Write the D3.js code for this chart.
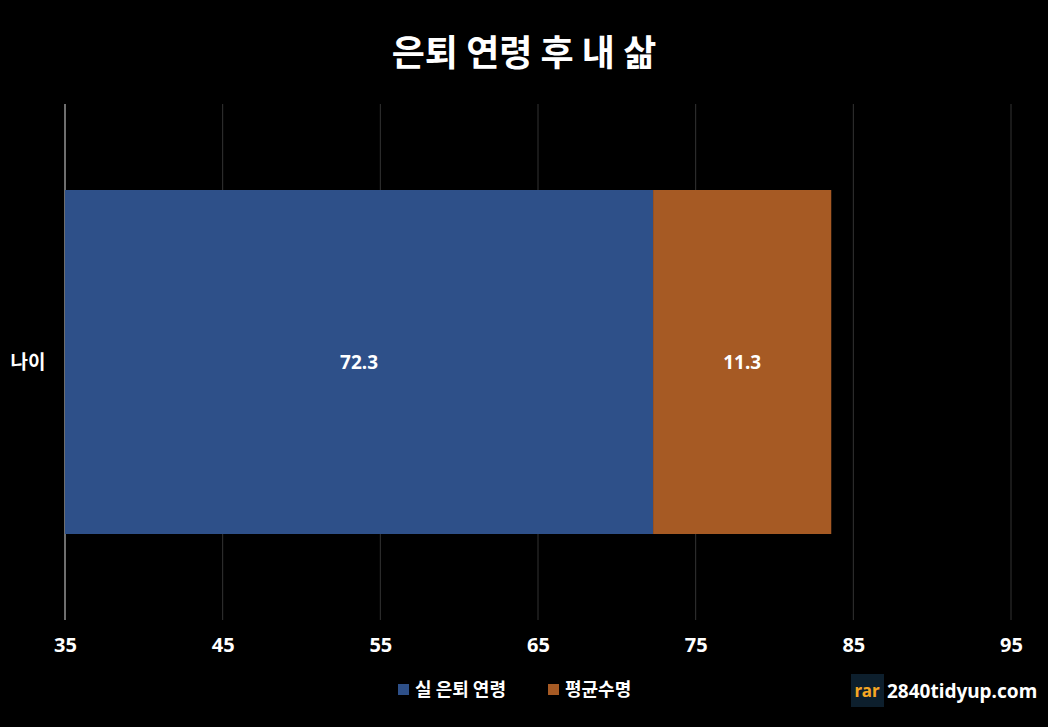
<!DOCTYPE html><html><head><meta charset="utf-8"><script src="https://cdn.jsdelivr.net/npm/d3@7"></script>
<style>body{margin:0;background:#000}svg{display:block}text{font-family:"Noto Sans CJK KR","Noto Sans",sans-serif}</style></head><body>
<script>
const categories=["나이"];
const retireAge=[72.3];
const lifeAfter=[11.3];
const seriesNames=["실 은퇴 연령","평균수명"];
const colors=["#2e5089","#a65a24"];
const tickValues=[35,45,55,65,75,85,95];
const W=1048,H=727;
const svg=d3.select("body").append("svg").attr("width",W).attr("height",H).style("background","#000");
const x=d3.scaleLinear().domain([35,95]).range([65,1011]);
const y=d3.scaleBand().domain(categories).range([104,620]).paddingInner(0).paddingOuter(0.25);
svg.append("text").attr("x",W/2).attr("y",66).attr("text-anchor","middle").attr("fill","#fff").attr("font-size",36).attr("font-weight","bold").text("은퇴 연령 후 내 삶");
const g=svg.append("g");
g.selectAll("line.grid").data(tickValues).join("line").attr("x1",d=>x(d)).attr("x2",d=>x(d)).attr("y1",104).attr("y2",620).attr("stroke",d=>d===35?"#ddd":"#333").attr("stroke-width",1);
const ax=d3.axisBottom(x).tickValues(tickValues).tickSize(0).tickPadding(0);
const axg=svg.append("g").attr("transform","translate(0,624)").call(ax);
axg.select(".domain").remove();
axg.selectAll("text").attr("fill","#fff").attr("font-size",20).attr("font-weight","bold").attr("dy","1.4em").style("font-family","'Noto Sans',sans-serif");
categories.forEach((c,i)=>{
  const y0=y(c), h=y.bandwidth();
  const segs=[[35,retireAge[i],retireAge[i]],[retireAge[i],retireAge[i]+lifeAfter[i],lifeAfter[i]]];
  segs.forEach((s,j)=>{
    svg.append("rect").attr("x",x(s[0])).attr("y",y0).attr("width",x(s[1])-x(s[0])).attr("height",h).attr("fill",colors[j]);
    svg.append("text").attr("x",(x(s[0])+x(s[1]))/2).attr("y",y0+h/2).attr("dy","0.35em").attr("text-anchor","middle").attr("fill","#fff").attr("font-size",19).attr("font-weight","bold").style("font-family","'Noto Sans',sans-serif").text(s[2]);
  });
  svg.append("text").attr("x",28).attr("y",y0+h/2).attr("dy","0.35em").attr("text-anchor","middle").attr("fill","#fff").attr("font-size",19).attr("font-weight","bold").text(c);
});
const lg=svg.append("g");
const lx=[398,548];
seriesNames.forEach((n,i)=>{
  lg.append("rect").attr("x",lx[i]).attr("y",684).attr("width",11).attr("height",11).attr("fill",colors[i]);
  lg.append("text").attr("x",lx[i]+17).attr("y",690).attr("dy","0.35em").attr("fill","#fff").attr("font-size",18).attr("font-weight","bold").text(n);
});
svg.append("rect").attr("x",851).attr("y",674).attr("width",33).attr("height",33).attr("fill","#0d1f2d");
svg.append("text").attr("x",867).attr("y",691).attr("dy","0.35em").attr("text-anchor","middle").attr("fill","#f5a623").attr("font-size",17).attr("font-weight","bold").style("font-family","'Noto Sans',sans-serif").text("rar");
svg.append("text").attr("x",887).attr("y",691).attr("dy","0.35em").attr("fill","#fff").attr("font-size",19).attr("font-weight","bold").style("font-family","'Noto Sans',sans-serif").text("2840tidyup.com");
</script></body></html>
